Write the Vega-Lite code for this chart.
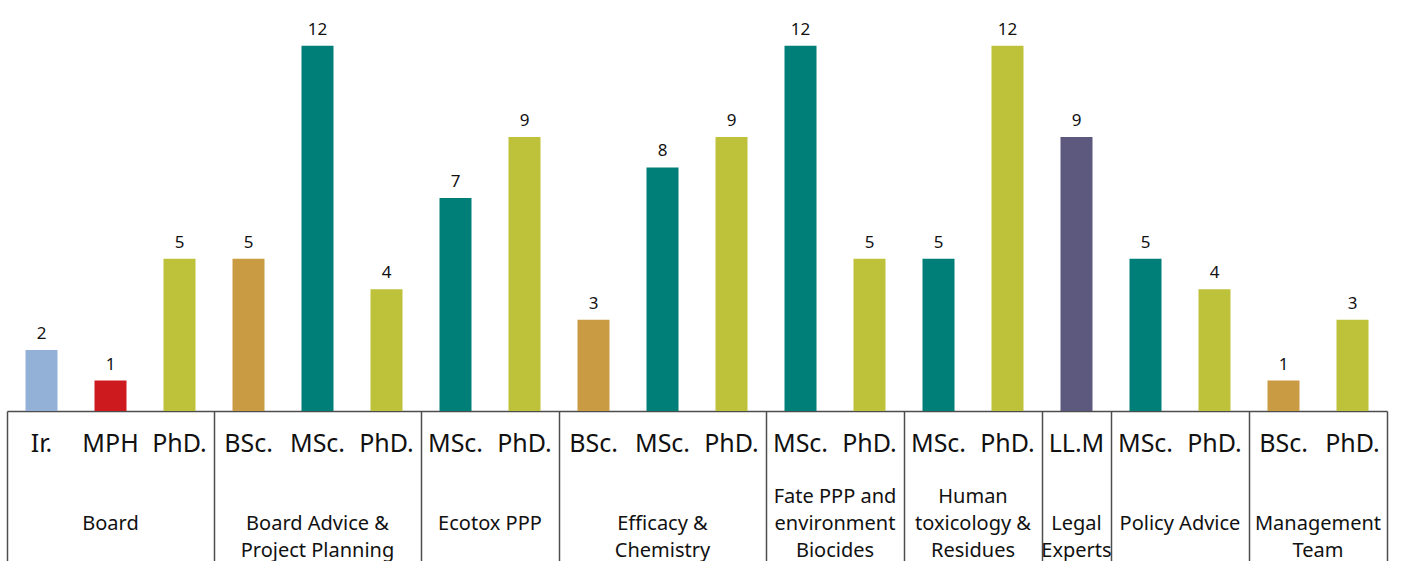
{
  "$schema": "https://vega.github.io/schema/vega-lite/v6.json",
  "width": 1380,
  "height": 411,
  "autosize": {"type": "none"},
  "padding": {"left": 7, "top": 0, "right": 15, "bottom": 150},
  "background": "white",
  "config": {"view": {"stroke": null}, "font": "Noto Sans"},
  "data": {
    "values": [
      {"bar": "Board|Ir.", "group": "Board", "degree": "Ir.", "count": 2},
      {"bar": "Board|MPH", "group": "Board", "degree": "MPH", "count": 1},
      {"bar": "Board|PhD.", "group": "Board", "degree": "PhD.", "count": 5},
      {"bar": "Board Advice &\nProject Planning|BSc.", "group": "Board Advice &\nProject Planning", "degree": "BSc.", "count": 5},
      {"bar": "Board Advice &\nProject Planning|MSc.", "group": "Board Advice &\nProject Planning", "degree": "MSc.", "count": 12},
      {"bar": "Board Advice &\nProject Planning|PhD.", "group": "Board Advice &\nProject Planning", "degree": "PhD.", "count": 4},
      {"bar": "Ecotox PPP|MSc.", "group": "Ecotox PPP", "degree": "MSc.", "count": 7},
      {"bar": "Ecotox PPP|PhD.", "group": "Ecotox PPP", "degree": "PhD.", "count": 9},
      {"bar": "Efficacy &\nChemistry|BSc.", "group": "Efficacy &\nChemistry", "degree": "BSc.", "count": 3},
      {"bar": "Efficacy &\nChemistry|MSc.", "group": "Efficacy &\nChemistry", "degree": "MSc.", "count": 8},
      {"bar": "Efficacy &\nChemistry|PhD.", "group": "Efficacy &\nChemistry", "degree": "PhD.", "count": 9},
      {"bar": "Fate PPP and\nenvironment\nBiocides|MSc.", "group": "Fate PPP and\nenvironment\nBiocides", "degree": "MSc.", "count": 12},
      {"bar": "Fate PPP and\nenvironment\nBiocides|PhD.", "group": "Fate PPP and\nenvironment\nBiocides", "degree": "PhD.", "count": 5},
      {"bar": "Human\ntoxicology &\nResidues|MSc.", "group": "Human\ntoxicology &\nResidues", "degree": "MSc.", "count": 5},
      {"bar": "Human\ntoxicology &\nResidues|PhD.", "group": "Human\ntoxicology &\nResidues", "degree": "PhD.", "count": 12},
      {"bar": "Legal\nExperts|LL.M", "group": "Legal\nExperts", "degree": "LL.M", "count": 9},
      {"bar": "Policy Advice|MSc.", "group": "Policy Advice", "degree": "MSc.", "count": 5},
      {"bar": "Policy Advice|PhD.", "group": "Policy Advice", "degree": "PhD.", "count": 4},
      {"bar": "Management\nTeam|BSc.", "group": "Management\nTeam", "degree": "BSc.", "count": 1},
      {"bar": "Management\nTeam|PhD.", "group": "Management\nTeam", "degree": "PhD.", "count": 3}
    ]
  },
  "resolve": {"axis": {"x": "independent"}},
  "layer": [
    {
      "mark": {"type": "bar", "width": 32},
      "encoding": {
        "x": {
          "field": "bar", "type": "nominal", "sort": null,
          "scale": {"paddingInner": 0, "paddingOuter": 0},
          "axis": {
            "orient": "bottom", "title": null, "domain": true, "domainColor": "#4d4d4d", "domainWidth": 1.5,
            "ticks": false, "labelPadding": 20, "labelFontSize": 25, "labelColor": "#111111",
            "labelAngle": 0, "labelBaseline": "top", "labelLimit": 0, "labelOverlap": false,
            "labelExpr": "split(datum.value, '|')[1]"
          }
        },
        "y": {"field": "count", "type": "quantitative", "scale": {"domain": [0, 13.5], "nice": false}, "axis": null},
        "color": {
          "field": "degree", "type": "nominal",
          "scale": {"domain": ["Ir.", "MPH", "PhD.", "BSc.", "MSc.", "LL.M"], "range": ["#93b1d7", "#cd1a1f", "#bec13a", "#c99b42", "#007f78", "#5d587d"]},
          "legend": null
        }
      }
    },
    {
      "mark": {"type": "text", "fontSize": 17, "baseline": "alphabetic", "dy": -11, "color": "#111111"},
      "encoding": {
        "x": {
          "field": "bar", "type": "nominal", "sort": null,
          "axis": {
            "orient": "bottom", "title": null, "domain": false, "labels": false, "ticks": true,
            "tickSize": 150, "tickColor": "#4d4d4d", "tickWidth": 1.5, "bandPosition": 1,
            "values": ["Board|PhD.", "Board Advice &\nProject Planning|PhD.", "Ecotox PPP|PhD.", "Efficacy &\nChemistry|PhD.", "Fate PPP and\nenvironment\nBiocides|PhD.", "Human\ntoxicology &\nResidues|PhD.", "Legal\nExperts|LL.M", "Policy Advice|PhD.", "Management\nTeam|PhD."]
          }
        },
        "y": {"field": "count", "type": "quantitative", "axis": null},
        "text": {"field": "count", "type": "quantitative"}
      }
    },
    {
      "mark": {"type": "text", "text": ""},
      "encoding": {
        "x": {
          "field": "bar", "type": "nominal", "sort": null,
          "axis": {
            "orient": "bottom", "title": null, "domain": false, "labels": false, "ticks": true,
            "tickSize": 150, "tickColor": "#4d4d4d", "tickWidth": 1.5, "bandPosition": 0,
            "values": ["Board|Ir."]
          }
        }
      }
    },
    {
      "mark": {"type": "text", "text": ""},
      "encoding": {
        "x": {
          "field": "bar", "type": "nominal", "sort": null,
          "axis": {
            "orient": "bottom", "title": null, "domain": false, "ticks": false, "bandPosition": 0.5,
            "labelPadding": 75, "labelFontSize": 20, "labelLineHeight": 27, "labelColor": "#111111",
            "labelAngle": 0, "labelBaseline": "top", "labelLimit": 0, "labelOverlap": false,
            "values": ["Board|MPH", "Board Advice &\nProject Planning|MSc.", "Efficacy &\nChemistry|MSc.", "Legal\nExperts|LL.M"],
            "labelExpr": "length(split(split(datum.value, '|')[0], '\\n')) == 3 ? split(split(datum.value, '|')[0], '\\n') : (length(split(split(datum.value, '|')[0], '\\n')) == 2 ? ['', split(split(datum.value, '|')[0], '\\n')[0], split(split(datum.value, '|')[0], '\\n')[1]] : ['', split(datum.value, '|')[0]])"
          }
        }
      }
    },
    {
      "mark": {"type": "text", "text": ""},
      "encoding": {
        "x": {
          "field": "bar", "type": "nominal", "sort": null,
          "axis": {
            "orient": "bottom", "title": null, "domain": false, "ticks": false, "bandPosition": 0.5,
            "labelOffset": -34.5,
            "labelPadding": 75, "labelFontSize": 20, "labelLineHeight": 27, "labelColor": "#111111",
            "labelAngle": 0, "labelBaseline": "top", "labelLimit": 0, "labelOverlap": false,
            "values": ["Ecotox PPP|PhD.", "Fate PPP and\nenvironment\nBiocides|PhD.", "Human\ntoxicology &\nResidues|PhD.", "Policy Advice|PhD.", "Management\nTeam|PhD."],
            "labelExpr": "length(split(split(datum.value, '|')[0], '\\n')) == 3 ? split(split(datum.value, '|')[0], '\\n') : (length(split(split(datum.value, '|')[0], '\\n')) == 2 ? ['', split(split(datum.value, '|')[0], '\\n')[0], split(split(datum.value, '|')[0], '\\n')[1]] : ['', split(datum.value, '|')[0]])"
          }
        }
      }
    }
  ]
}
